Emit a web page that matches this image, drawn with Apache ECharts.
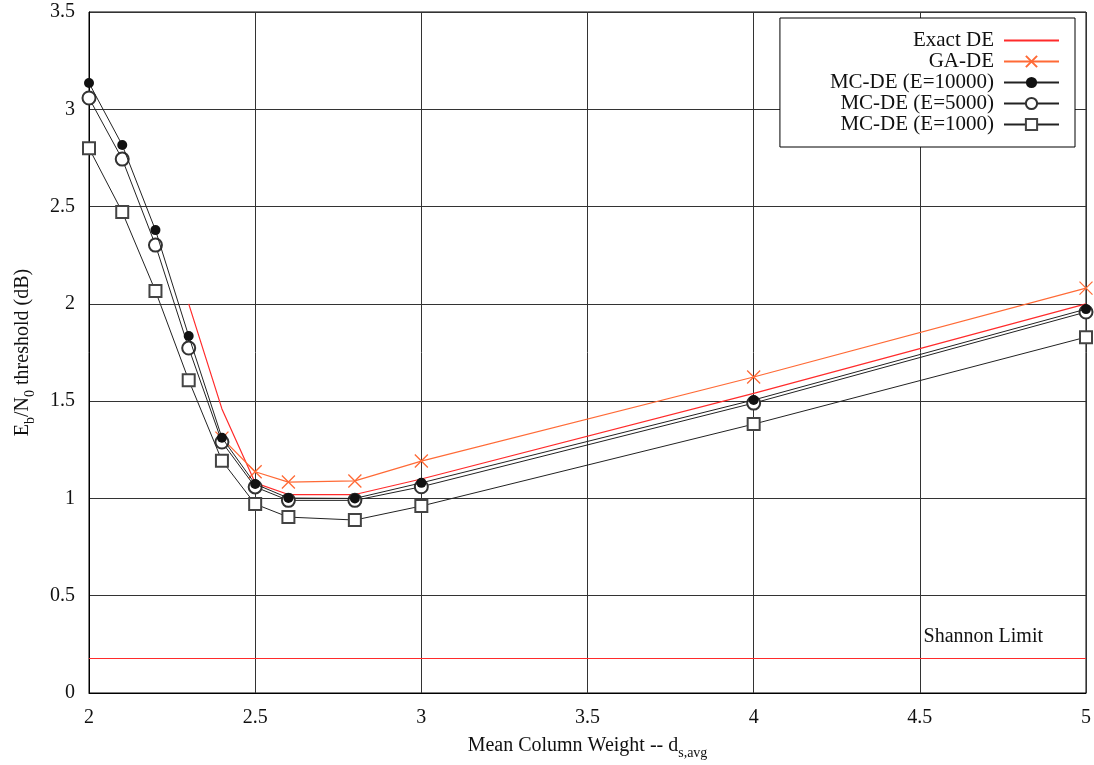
<!DOCTYPE html>
<html>
<head>
<meta charset="utf-8">
<script src="https://cdn.jsdelivr.net/npm/echarts@6/dist/echarts.min.js"></script>
<style>
html,body{margin:0;padding:0;background:#fff;}
#chart{width:1094px;height:765px;}
</style>
</head>
<body>
<div id="chart"></div>
<script>
// ---- data ----
var xValues = [2, 2.1, 2.2, 2.3, 2.4, 2.5, 2.6, 2.8, 3, 4, 5];
var exactDE = [null, null, null, 2.0, 1.46, 1.08, 1.02, 1.02, 1.10, 1.54, 2.0];
var gaDE = [null, null, null, null, 1.31, 1.137, 1.084, 1.09, 1.192, 1.624, 2.081];
var mc10000 = [3.135, 2.816, 2.379, 1.835, 1.312, 1.074, 1.002, 1.0, 1.08, 1.506, 1.973];
var mc5000 = [3.058, 2.744, 2.302, 1.773, 1.29, 1.059, 0.99, 0.99, 1.06, 1.49, 1.958];
var mc1000 = [2.80, 2.472, 2.066, 1.608, 1.194, 0.971, 0.904, 0.889, 0.961, 1.382, 1.829];
var shannonLimit = 0.176;
var xTicks = [2, 2.5, 3, 3.5, 4, 4.5, 5];
var yTicks = [0, 0.5, 1, 1.5, 2, 2.5, 3, 3.5];
var seriesNames = ['Exact DE', 'GA-DE', 'MC-DE (E=10000)', 'MC-DE (E=5000)', 'MC-DE (E=1000)'];

function pairs(vals) {
  var out = [];
  for (var i = 0; i < xValues.length; i++) {
    if (vals[i] !== null) out.push([xValues[i], vals[i]]);
  }
  return out;
}

var FONT = 'Liberation Serif';
var RED = '#ff2b2b';
var ORANGE = '#ff6a36';
var DARK = '#222';

var chart = echarts.init(document.getElementById('chart'), null, {renderer: 'canvas'});
var option = {
  animation: false,
  backgroundColor: '#fff',
  textStyle: {fontFamily: FONT},
  grid: {left: 89, right: 8, top: 12, bottom: 72, show: true, borderColor: '#000', borderWidth: 1, backgroundColor: 'transparent'},
  legend: {
    data: [
      {name: seriesNames[0], itemStyle: {opacity: 0}},
      seriesNames[1], seriesNames[2], seriesNames[3], seriesNames[4]
    ],
    orient: 'vertical',
    align: 'right',
    right: 19,
    top: 18,
    padding: [12, 15, 12, 50],
    itemGap: 0,
    itemWidth: 55,
    itemHeight: 14,
    backgroundColor: '#fff',
    borderColor: '#000',
    borderWidth: 1,
    textStyle: {fontFamily: FONT, fontSize: 21, color: '#111', lineHeight: 21, padding: [0, 5, 0, 0]}
  },
  xAxis: {
    type: 'value',
    min: xTicks[0],
    max: xTicks[xTicks.length - 1],
    interval: 0.5,
    name: '{n|Mean Column Weight -- d}{s|s,avg}',
    nameLocation: 'middle',
    nameGap: 43,
    nameTextStyle: {
      rich: {
        n: {fontFamily: FONT, fontSize: 20, color: '#111', verticalAlign: 'top', lineHeight: 20},
        s: {fontFamily: FONT, fontSize: 14, color: '#111', verticalAlign: 'top', lineHeight: 14, padding: [10, 0, 0, 0]}
      }
    },
    axisLine: {show: true, lineStyle: {color: '#000', width: 1}},
    axisTick: {show: false},
    axisLabel: {fontFamily: FONT, fontSize: 20, color: '#111', margin: 15},
    splitLine: {show: true, lineStyle: {color: '#333', width: 1}}
  },
  yAxis: {
    type: 'value',
    min: yTicks[0],
    max: yTicks[yTicks.length - 1],
    interval: 0.5,
    name: '{n|E}{s|b}{n|/N}{s|0}{n| threshold (dB)}',
    nameLocation: 'middle',
    nameGap: 56,
    nameRotate: 90,
    nameTextStyle: {
      rich: {
        n: {fontFamily: FONT, fontSize: 20, color: '#111', verticalAlign: 'top', lineHeight: 20},
        s: {fontFamily: FONT, fontSize: 14, color: '#111', verticalAlign: 'top', lineHeight: 14, padding: [10, 0, 0, 0]}
      }
    },
    axisLine: {show: true, lineStyle: {color: '#000', width: 1}},
    axisTick: {show: false},
    axisLabel: {fontFamily: FONT, fontSize: 20, color: '#111', margin: 14},
    splitLine: {show: true, lineStyle: {color: '#333', width: 1}}
  },
  series: [
    {
      name: seriesNames[0], type: 'line', data: pairs(exactDE), symbol: 'none', z: 2,
      lineStyle: {color: RED, width: 1.2}, itemStyle: {color: RED}
    },
    {
      name: seriesNames[1], type: 'line', data: pairs(gaDE),
      symbol: 'path://M0,0L10,10M10,0L0,10', symbolSize: 13, z: 2,
      lineStyle: {color: ORANGE, width: 1.2},
      itemStyle: {color: ORANGE, borderColor: ORANGE, borderWidth: 1.3}
    },
    {
      name: seriesNames[2], type: 'line', data: pairs(mc10000),
      symbol: 'circle', symbolSize: 10, z: 4,
      lineStyle: {color: DARK, width: 1}, itemStyle: {color: '#111'}
    },
    {
      name: seriesNames[3], type: 'line', data: pairs(mc5000),
      symbol: 'emptyCircle', symbolSize: 13, z: 3,
      lineStyle: {color: DARK, width: 1}, itemStyle: {color: '#333', borderWidth: 1}
    },
    {
      name: seriesNames[4], type: 'line', data: pairs(mc1000),
      symbol: 'emptyRect', symbolSize: 12, z: 3,
      lineStyle: {color: DARK, width: 1}, itemStyle: {color: '#444', borderWidth: 1}
    },
    {
      name: 'Shannon Limit', type: 'line', data: [], z: 2,
      markLine: {
        silent: true,
        symbol: 'none',
        lineStyle: {color: RED, width: 1.2, type: 'solid'},
        label: {
          show: true, position: 'insideEndTop', formatter: 'Shannon Limit',
          fontFamily: FONT, fontSize: 20, color: '#111', padding: [0, 38, 6, 0]
        },
        data: [{yAxis: shannonLimit}]
      }
    }
  ]
};
chart.setOption(option);
</script>
</body>
</html>
